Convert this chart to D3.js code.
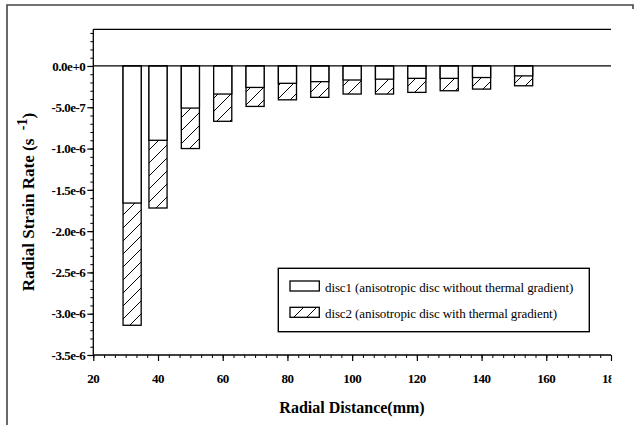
<!DOCTYPE html>
<html>
<head>
<meta charset="utf-8">
<script src="https://cdn.jsdelivr.net/npm/d3@7/dist/d3.min.js"></script>
<style>
  html, body { margin: 0; padding: 0; background: #fff; }
  svg { display: block; }
  .tick-label { font-family: "Liberation Serif", "Times New Roman", serif; font-weight: bold; font-size: 13px; letter-spacing: -0.5px; }
  .title { font-family: "Liberation Serif", "Times New Roman", serif; font-weight: bold; font-size: 16px; }
  .ytitle { font-family: "Liberation Serif", "Times New Roman", serif; font-weight: bold; font-size: 17px; }
  .legend-text { font-family: "Liberation Serif", "Times New Roman", serif; font-size: 13px; letter-spacing: -0.1px; }
</style>
</head>
<body>
<svg id="chart" width="636" height="425"></svg>
<script>
// Radial positions (mm) and radial strain rate (1/s) for the two discs
const radius = [32, 40, 50, 60, 70, 80, 90, 100, 110, 120, 130, 140, 153];
const disc1 = [-1.66e-6, -0.90e-6, -0.51e-6, -0.34e-6, -0.26e-6, -0.21e-6, -0.19e-6,
               -0.17e-6, -0.16e-6, -0.15e-6, -0.15e-6, -0.14e-6, -0.12e-6];
const disc2 = [-3.14e-6, -1.72e-6, -1.00e-6, -0.67e-6, -0.49e-6, -0.41e-6, -0.38e-6,
               -0.34e-6, -0.34e-6, -0.32e-6, -0.30e-6, -0.28e-6, -0.24e-6];

const xTicks = [20, 40, 60, 80, 100, 120, 140, 160, 180];
const yTicks = [0, -5e-7, -1e-6, -1.5e-6, -2e-6, -2.5e-6, -3e-6, -3.5e-6];
const legendLabels = [
  "disc1 (anisotropic disc without thermal gradient)",
  "disc2 (anisotropic disc with thermal gradient)"
];

const svg = d3.select("#chart");
const plotLeft = 93.3, plotRight = 611, plotTop = 29.3, plotBottom = 355;
const barWidth = 5.6; // in mm

const x = d3.scaleLinear().domain([20, 180]).range([plotLeft, plotRight]);
const y = d3.scaleLinear().domain([0.444e-6, -3.5e-6]).range([plotTop, plotBottom]);

// Hatch pattern for disc2
const defs = svg.append("defs");
const pat = defs.append("pattern")
  .attr("id", "hatch")
  .attr("patternUnits", "userSpaceOnUse")
  .attr("width", 13).attr("height", 13);
pat.append("rect").attr("width", 13).attr("height", 13).attr("fill", "#fff");
pat.append("path")
  .attr("d", "M0,13 L13,0 M-3,3 L3,-3 M10,16 L16,10")
  .attr("stroke", "#000").attr("stroke-width", 1);

// x tick labels are cut at the right end of the axis
defs.append("clipPath").attr("id", "xclip")
  .append("rect").attr("x", 0).attr("y", 360).attr("width", plotRight + 0.5).attr("height", 40);

// Outer frame
svg.append("path")
  .attr("d", "M7,425 L7,5 L633,5 L633,9")
  .attr("fill", "none").attr("stroke", "#444").attr("stroke-width", 1.6);

// Bars: disc2 (hatched) underneath, disc1 (white) on top
const rows = radius.map((r, i) => ({ r, v1: disc1[i], v2: disc2[i] }));
const bw = x(20 + barWidth) - x(20);

svg.append("g").selectAll("rect").data(rows).join("rect")
  .attr("x", d => x(d.r) - bw / 2)
  .attr("width", bw)
  .attr("y", y(0))
  .attr("height", d => y(d.v2) - y(0))
  .attr("fill", "url(#hatch)")
  .attr("stroke", "#000").attr("stroke-width", 1.3);

svg.append("g").selectAll("rect").data(rows).join("rect")
  .attr("x", d => x(d.r) - bw / 2)
  .attr("width", bw)
  .attr("y", y(0))
  .attr("height", d => y(d.v1) - y(0))
  .attr("fill", "#fff")
  .attr("stroke", "#000").attr("stroke-width", 1.3);

// Plot frame lines: top border and zero line
svg.append("line").attr("x1", plotLeft).attr("x2", plotRight).attr("y1", plotTop).attr("y2", plotTop)
  .attr("stroke", "#000").attr("stroke-width", 1.3);
svg.append("line").attr("x1", plotLeft).attr("x2", plotRight).attr("y1", y(0)).attr("y2", y(0))
  .attr("stroke", "#000").attr("stroke-width", 1.3);

// Y axis
const fmt = v => d3.format(".1e")(v).replace("\u2212", "-");
const yMinor = d3.range(4, -36, -1).map(k => k * 1e-7);
svg.append("g").attr("transform", `translate(${plotLeft},0)`)
  .call(d3.axisLeft(y).tickValues(yMinor).tickSize(3).tickFormat(""))
  .call(g => g.select(".domain").remove());
const yMajorG = svg.append("g").attr("transform", `translate(${plotLeft},0)`)
  .call(d3.axisLeft(y).tickValues(yTicks).tickSize(6).tickPadding(2).tickFormat(fmt));
yMajorG.select(".domain").attr("d", `M0,${plotTop}V${plotBottom}`).attr("stroke-width", 1.3);
yMajorG.selectAll(".tick line").attr("stroke-width", 1.2);
yMajorG.selectAll(".tick text").attr("class", "tick-label").attr("fill", "#000");

// X axis
const xMinor = d3.range(0, 49).map(k => 20 + k * 20 / 6).filter(v => v <= 180.01);
svg.append("g").attr("transform", `translate(0,${plotBottom})`)
  .call(d3.axisBottom(x).tickValues(xMinor).tickSize(3).tickFormat(""))
  .call(g => g.select(".domain").remove());
const xMajorG = svg.append("g").attr("transform", `translate(0,${plotBottom})`)
  .call(d3.axisBottom(x).tickValues(xTicks).tickSize(6).tickFormat(""));
xMajorG.select(".domain").attr("d", `M${plotLeft},0H${plotRight}`).attr("stroke-width", 1.3);
xMajorG.selectAll(".tick line").attr("stroke-width", 1.2);

svg.append("g").attr("clip-path", "url(#xclip)")
  .selectAll("text").data(xTicks).join("text")
  .attr("class", "tick-label")
  .attr("x", d => x(d)).attr("y", plotBottom + 28)
  .attr("text-anchor", "middle")
  .text(d => d3.format("d")(d));

svg.selectAll(".tick line").attr("stroke", "#000");
svg.selectAll(".domain").attr("stroke", "#000");

// Axis titles
svg.append("text").attr("class", "title")
  .attr("x", 352).attr("y", 413).attr("text-anchor", "middle")
  .text("Radial Distance(mm)");

const yt = svg.append("text").attr("class", "ytitle")
  .attr("transform", "translate(34,202) rotate(-90)")
  .attr("text-anchor", "middle");
yt.append("tspan").text("Radial Strain Rate (s\u00a0\u00a0");
yt.append("tspan").attr("dy", -7).attr("font-size", 14).text("-1");
yt.append("tspan").attr("dy", 7).text(")");

// Legend
const lg = svg.append("g");
lg.append("rect").attr("x", 278.3).attr("y", 268.3).attr("width", 311).attr("height", 63.4)
  .attr("fill", "#fff").attr("stroke", "#000").attr("stroke-width", 1.4);
const fills = ["#fff", "url(#hatch)"];
legendLabels.forEach((lab, i) => {
  const sy = 281 + i * 26.3;
  lg.append("rect").attr("x", 290).attr("y", sy).attr("width", 29.3).attr("height", 10)
    .attr("fill", fills[i]).attr("stroke", "#000").attr("stroke-width", 1.3);
  lg.append("text").attr("class", "legend-text")
    .attr("x", 325).attr("y", sy + 11).text(lab);
});
</script>
</body>
</html>
